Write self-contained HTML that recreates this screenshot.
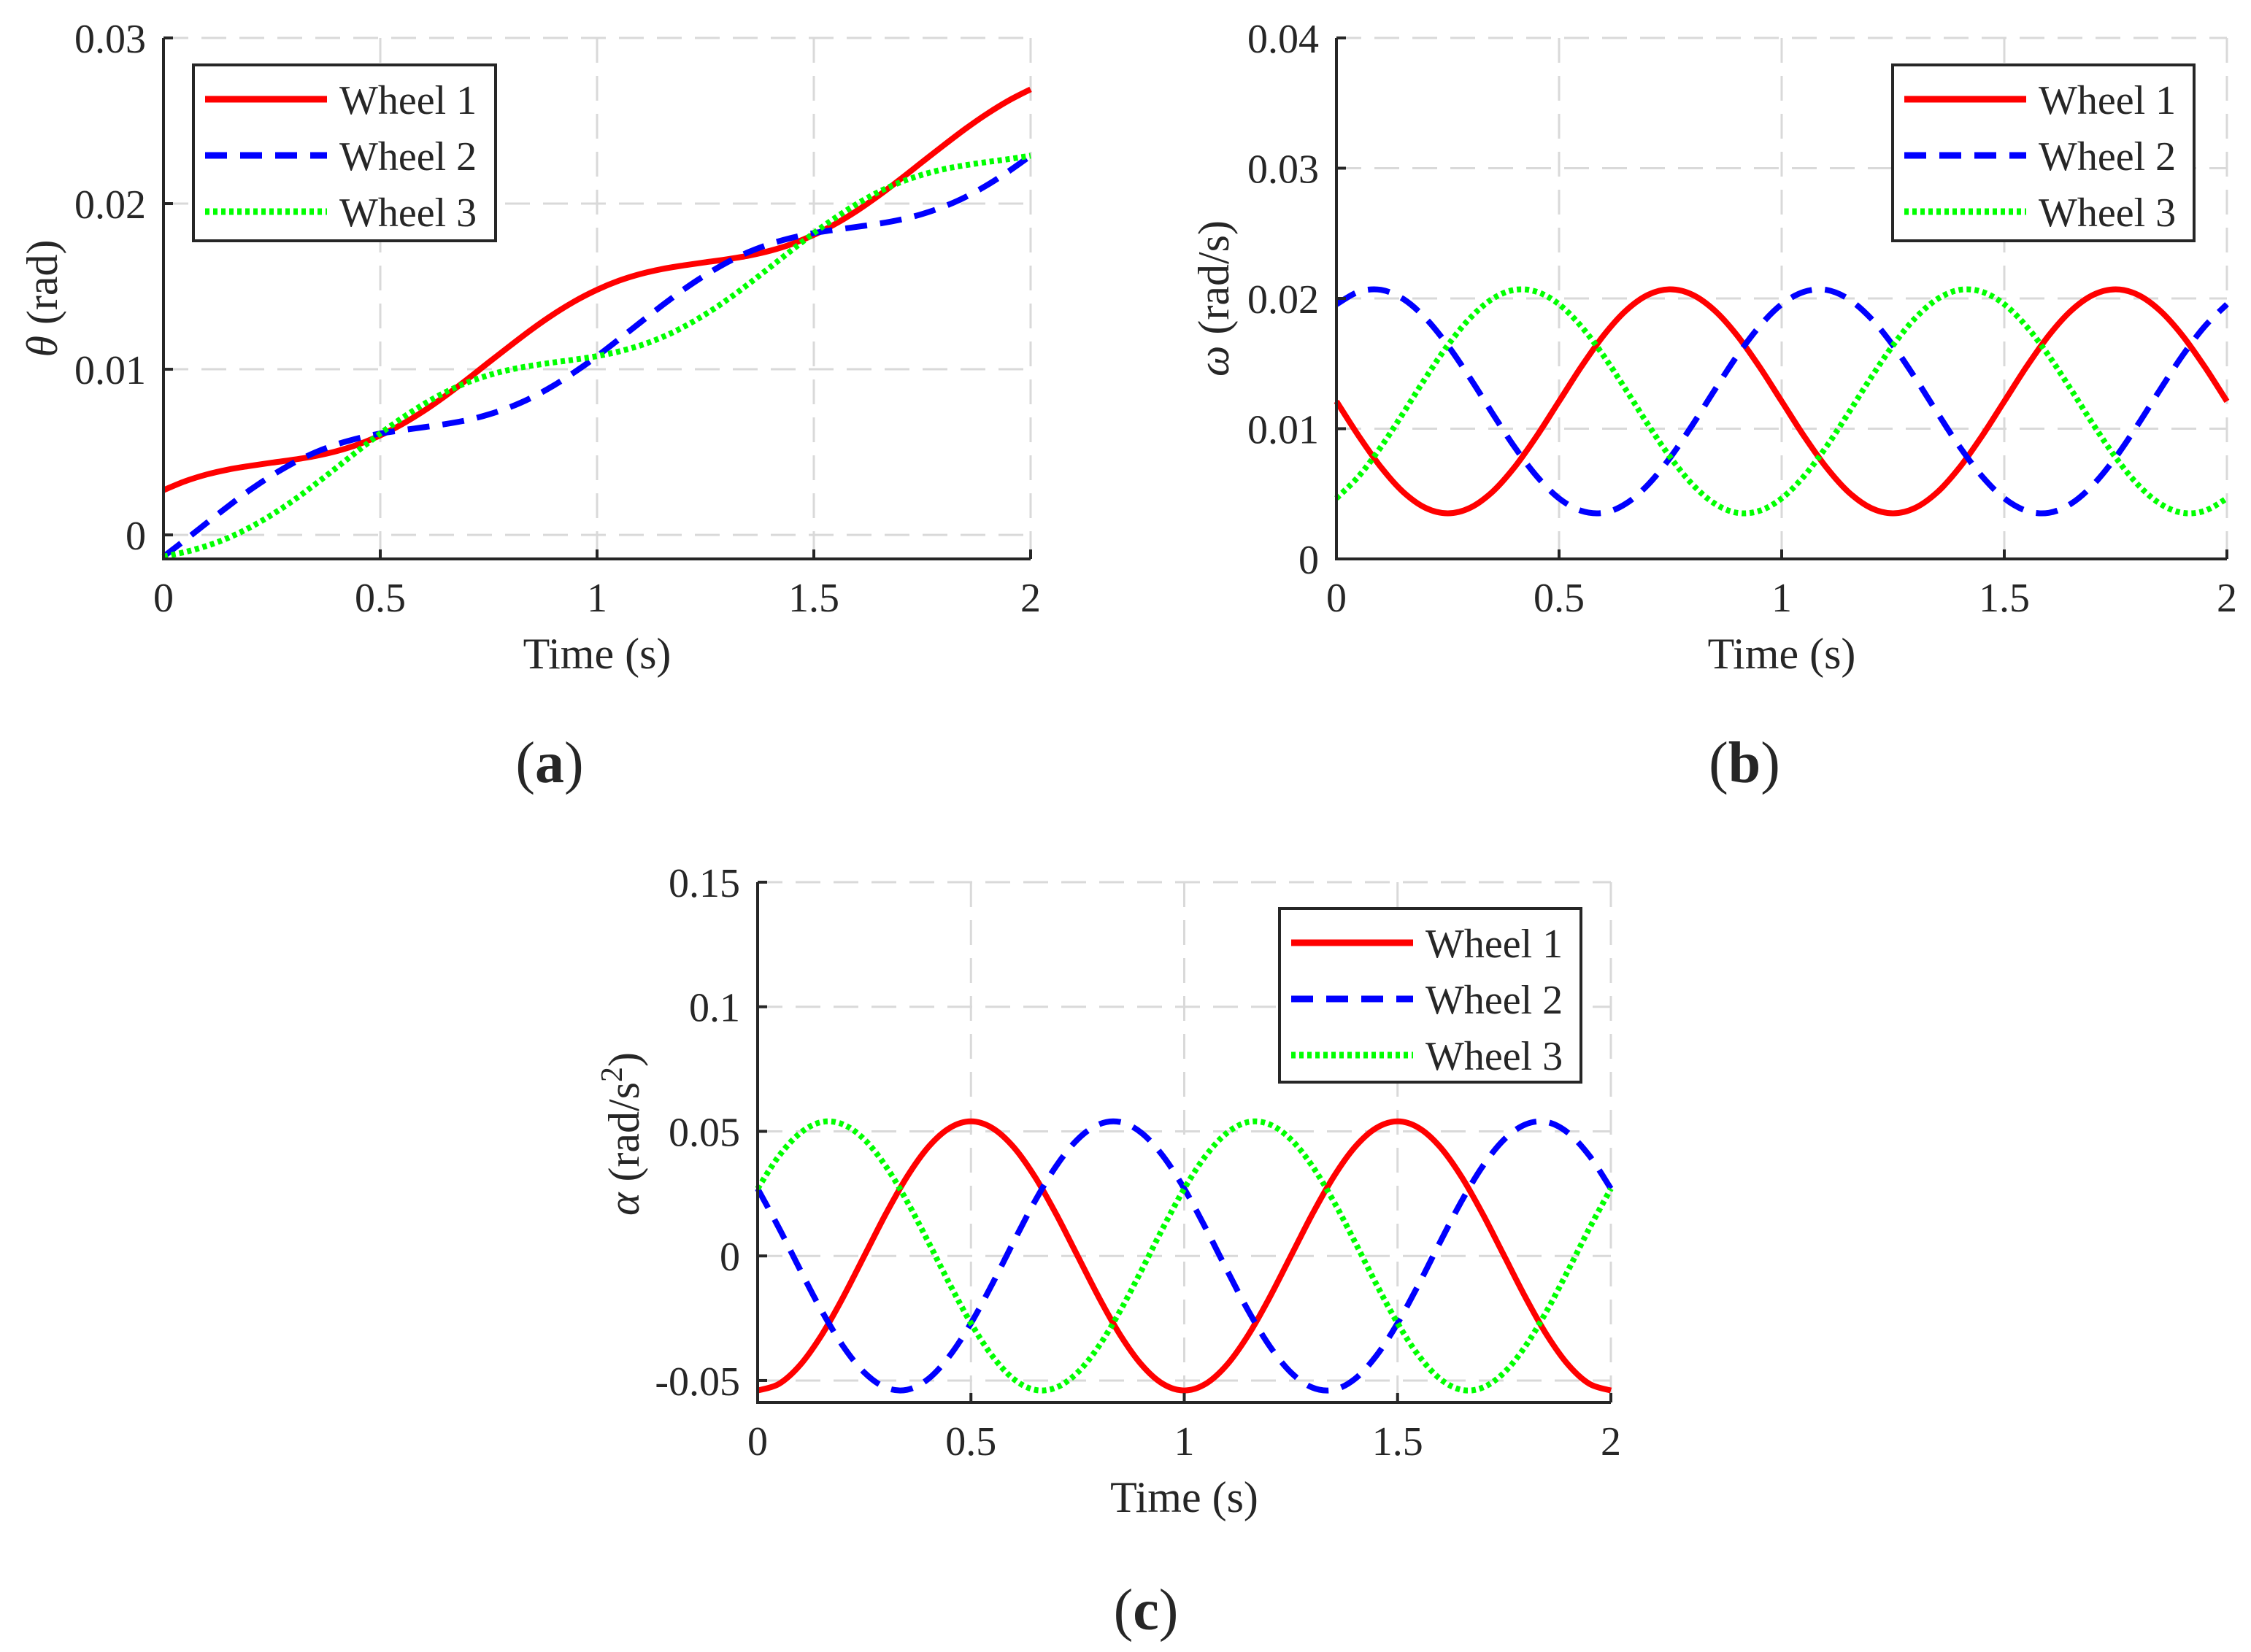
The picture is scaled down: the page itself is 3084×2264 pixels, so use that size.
<!DOCTYPE html>
<html><head><meta charset="utf-8"><style>
html,body{margin:0;padding:0;background:#fff;}
svg text{font-family:"Liberation Serif",serif;fill:#262626;}
</style></head><body>
<svg id="fig" xmlns="http://www.w3.org/2000/svg" width="3084" height="2259" viewBox="0 0 3084 2259"></svg>
<script>
// ---- data (units of 1e-3) ----
const timeStart = 0, timeStep = 0.05;
const xTicks = [0, 0.5, 1, 1.5, 2];
const xTickLabels = ["0", "0.5", "1", "1.5", "2"];
const seriesNames = ["Wheel 1", "Wheel 2", "Wheel 3"];

const theta1 = [2.70,3.24,3.65,3.95,4.17,4.36,4.54,4.76,5.06,5.47,6.01,6.68,7.48,8.39,9.38,10.41,11.43,12.42,13.33,14.13,14.80,15.34,15.75,16.05,16.27,16.46,16.64,16.86,17.16,17.57,18.11,18.78,19.58,20.49,21.48,22.51,23.53,24.52,25.43,26.23,26.90];
const theta2 = [-1.31,-0.30,0.73,1.75,2.72,3.59,4.35,4.98,5.47,5.84,6.12,6.32,6.50,6.69,6.93,7.27,7.72,8.30,9.02,9.86,10.79,11.80,12.83,13.85,14.82,15.69,16.45,17.08,17.57,17.94,18.22,18.42,18.60,18.79,19.03,19.37,19.82,20.40,21.12,21.96,22.89];
const theta3 = [-1.31,-1.03,-0.66,-0.17,0.46,1.22,2.09,3.06,4.08,5.11,6.12,7.05,7.89,8.61,9.19,9.64,9.98,10.22,10.41,10.59,10.79,11.07,11.44,11.93,12.56,13.32,14.19,15.16,16.18,17.21,18.22,19.15,19.99,20.71,21.29,21.74,22.08,22.32,22.51,22.69,22.89];

const omega1 = [12.1,9.44,7.04,5.14,3.92,3.5,3.92,5.14,7.04,9.44,12.1,14.76,17.16,19.06,20.28,20.7,20.28,19.06,17.16,14.76,12.1,9.44,7.04,5.14,3.92,3.5,3.92,5.14,7.04,9.44,12.1,14.76,17.16,19.06,20.28,20.7,20.28,19.06,17.16,14.76,12.1];
const omega2 = [19.55,20.51,20.66,19.96,18.49,16.4,13.89,11.2,8.6,6.35,4.65,3.69,3.54,4.24,5.71,7.8,10.31,13.0,15.6,17.85,19.55,20.51,20.66,19.96,18.49,16.4,13.89,11.2,8.6,6.35,4.65,3.69,3.54,4.24,5.71,7.8,10.31,13.0,15.6,17.85,19.55];
const omega3 = [4.65,6.35,8.6,11.2,13.89,16.4,18.49,19.96,20.66,20.51,19.55,17.85,15.6,13.0,10.31,7.8,5.71,4.24,3.54,3.69,4.65,6.35,8.6,11.2,13.89,16.4,18.49,19.96,20.66,20.51,19.55,17.85,15.6,13.0,10.31,7.8,5.71,4.24,3.54,3.69,4.65];

const alpha1 = [-54,-51.35,-43.69,-31.75,-16.69,0,16.69,31.75,43.69,51.35,54,51.35,43.69,31.75,16.69,0,-16.69,-31.75,-43.69,-51.35,-54,-51.35,-43.69,-31.75,-16.69,0,16.69,31.75,43.69,51.35,54,51.35,43.69,31.75,16.69,0,-16.69,-31.75,-43.69,-51.35,-54];
const alpha2 = [27,11.23,-5.67,-21.98,-36.13,-46.77,-52.81,-53.73,-49.36,-40.12,-27,-11.23,5.67,21.98,36.13,46.77,52.81,53.73,49.36,40.12,27,11.23,-5.67,-21.98,-36.13,-46.77,-52.81,-53.73,-49.36,-40.12,-27,-11.23,5.67,21.98,36.13,46.77,52.81,53.73,49.36,40.12,27];
const alpha3 = [27,40.12,49.36,53.73,52.81,46.77,36.13,21.98,5.67,-11.23,-27,-40.12,-49.36,-53.73,-52.81,-46.77,-36.13,-21.98,-5.67,11.23,27,40.12,49.36,53.73,52.81,46.77,36.13,21.98,5.67,-11.23,-27,-40.12,-49.36,-53.73,-52.81,-46.77,-36.13,-21.98,-5.67,11.23,27];

const thetaTicks = [0, 10, 20, 30];
const thetaTickLabels = ["0", "0.01", "0.02", "0.03"];
const omegaTicks = [0, 10, 20, 30, 40];
const omegaTickLabels = ["0", "0.01", "0.02", "0.03", "0.04"];
const alphaTicks = [-50, 0, 50, 100, 150];
const alphaTickLabels = ["-0.05", "0", "0.05", "0.1", "0.15"];

// ---- drawing ----
const NS = "http://www.w3.org/2000/svg";
const svg = document.getElementById("fig");
function mk(tag, attrs, parent){
  const e = document.createElementNS(NS, tag);
  for (const k in attrs) e.setAttribute(k, attrs[k]);
  (parent||svg).appendChild(e);
  return e;
}
const styles = [
  {stroke:"#ff0000", width:8, dash:""},
  {stroke:"#0000ff", width:8, dash:"30 18"},
  {stroke:"#00ff00", width:8, dash:"6 5"}
];

function panel(cfg){
  const g = mk("g", {});
  
  
  const X = v => cfg.x0 + (v - 0) / 2 * (cfg.x1 - cfg.x0);
  const Y = v => cfg.yb - (v - cfg.ymin) / (cfg.ymax - cfg.ymin) * (cfg.yb - cfg.yt);
  xTicks.forEach(v => {
    const l = mk("line", {x1:X(v), x2:X(v), y1:cfg.yt, y2:cfg.yb, stroke:"#d9d9d9", "stroke-width":3, "stroke-dasharray":"34 18"}, g);
    
    
  });
  cfg.yTicks.forEach(v => {
    const l = mk("line", {x1:cfg.x0, x2:cfg.x1, y1:Y(v), y2:Y(v), stroke:"#d9d9d9", "stroke-width":3, "stroke-dasharray":"34 18"}, g);
    
    
  });
  cfg.series.forEach((arr, si) => {
    const pts = arr.map((v, i) => [X(timeStart + i * timeStep), Y(v)]);
    let d = "M" + pts[0][0] + " " + pts[0][1];
    for (let i = 0; i < pts.length - 1; i++){
      const p0 = pts[Math.max(0, i-1)], p1 = pts[i], p2 = pts[i+1], p3 = pts[Math.min(pts.length-1, i+2)];
      const c1x = p1[0] + (p2[0]-p0[0])/6, c1y = p1[1] + (p2[1]-p0[1])/6;
      const c2x = p2[0] - (p3[0]-p1[0])/6, c2y = p2[1] - (p3[1]-p1[1])/6;
      d += " C" + c1x.toFixed(1) + " " + c1y.toFixed(1) + " " + c2x.toFixed(1) + " " + c2y.toFixed(1) + " " + p2[0].toFixed(1) + " " + p2[1].toFixed(1);
    }
    const s = styles[si];
    const p = mk("path", {d:d, fill:"none", stroke:s.stroke, "stroke-width":s.width, "stroke-dasharray":s.dash}, g);
    
    
  });
  const ax = mk("path", {d:`M${cfg.x0} ${cfg.yt} L${cfg.x0} ${cfg.yb} L${cfg.x1} ${cfg.yb}`, fill:"none", stroke:"#262626", "stroke-width":4}, g);
  
  
  xTicks.forEach((v, i) => {
    mk("line", {x1:X(v), x2:X(v), y1:cfg.yb, y2:cfg.yb-13, stroke:"#262626", "stroke-width":4}, g);
    const t = mk("text", {x:X(v), y:cfg.yb+72, "font-size":56, "text-anchor":"middle"}, g);
    t.textContent = xTickLabels[i];
    
    
  });
  cfg.yTicks.forEach((v, i) => {
    mk("line", {x1:cfg.x0, x2:cfg.x0+13, y1:Y(v), y2:Y(v), stroke:"#262626", "stroke-width":4}, g);
    const t = mk("text", {x:cfg.x0-24, y:Y(v)+20, "font-size":56, "text-anchor":"end"}, g);
    t.textContent = cfg.yTickLabels[i];
    
    
  });
  const xl = mk("text", {x:(cfg.x0+cfg.x1)/2, y:cfg.yb+150, "font-size":60, "text-anchor":"middle"}, g);
  xl.textContent = "Time (s)";
  
  
  const yl = mk("text", {x:0, y:0, "font-size":60, "text-anchor":"middle", transform:`translate(${cfg.ylx},${cfg.yly}) rotate(-90)`}, g);
  yl.innerHTML = cfg.ylabel;
  
  
  const cap = mk("text", {x:cfg.capx, y:cfg.capy, "font-size":80, "text-anchor":"middle"}, g);
  cap.innerHTML = '(<tspan font-weight="bold">' + cfg.cap + '</tspan>)';
  
  
  const L = cfg.leg;
  const lg = mk("g", {}, g);
  
  
  mk("rect", {x:L.x, y:L.y, width:L.w, height:L.h, fill:"#fff", stroke:"#262626", "stroke-width":4}, lg);
  seriesNames.forEach((n, i) => {
    const yy = L.y + 47 + i * 77;
    const s = styles[i];
    const ln = mk("line", {x1:L.x+16, x2:L.x+183, y1:yy, y2:yy, stroke:s.stroke, "stroke-width":s.width+1, "stroke-dasharray":s.dash}, lg);
    
    
    const t = mk("text", {x:L.x+200, y:yy+20, "font-size":56}, lg);
    t.textContent = n;
    
    
  });
}

panel({name:"panel-a-theta", x0:224, x1:1412, yt:52, yb:766, ymin:-1.45, ymax:30,
  yTicks:thetaTicks, yTickLabels:thetaTickLabels, series:[theta1, theta2, theta3],
  ylabel:'<tspan font-style="italic">θ</tspan> (rad)', ylx:78, yly:409, cap:"a", capx:753, capy:1072,
  leg:{x:265, y:89, w:414, h:241}});
panel({name:"panel-b-omega", x0:1831, x1:3051, yt:52, yb:766, ymin:0, ymax:40,
  yTicks:omegaTicks, yTickLabels:omegaTickLabels, series:[omega1, omega2, omega3],
  ylabel:'<tspan font-style="italic">ω</tspan> (rad/s)', ylx:1683, yly:409, cap:"b", capx:2390, capy:1072,
  leg:{x:2593, y:89, w:413, h:241}});
panel({name:"panel-c-alpha", x0:1038, x1:2207, yt:1209, yb:1922, ymin:-58.8, ymax:150,
  yTicks:alphaTicks, yTickLabels:alphaTickLabels, series:[alpha1, alpha2, alpha3],
  ylabel:'<tspan font-style="italic">α</tspan> (rad/s<tspan baseline-shift="super" font-size="42">2</tspan>)', ylx:875, yly:1554, cap:"c", capx:1570, capy:2233,
  leg:{x:1753, y:1245, w:413, h:238}});
</script>
</body></html>
